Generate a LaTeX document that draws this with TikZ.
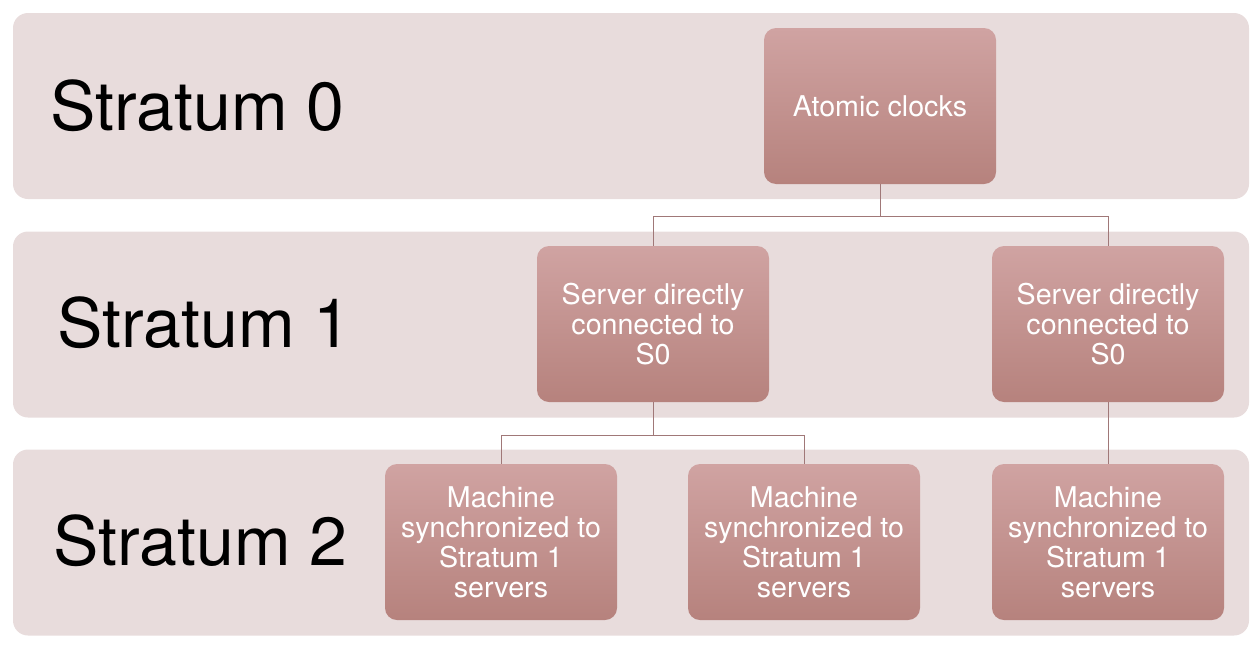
\documentclass[tikz,border=0pt]{standalone}
\usepackage{fontspec}
\setmainfont{TeX Gyre Heros}
\usepackage{tikz}
\usetikzlibrary{positioning}
\definecolor{Band}{RGB}{232,220,220}
\definecolor{BoxTop}{RGB}{208,163,162}
\definecolor{BoxBot}{RGB}{182,130,125}
\definecolor{Wire}{RGB}{160,120,120}
\tikzstyle{Layer}=[rounded corners=15pt,fill=Band,inner sep=0pt,
minimum width=1236pt,minimum height=186pt]
\tikzstyle{Box}=[rounded corners=12pt,top color=BoxTop,bottom color=BoxBot,
minimum width=232pt,minimum height=156pt,align=center,
text=white,font=\fontsize{28.6}{30}\selectfont,inner sep=0pt]
\tikzstyle{Title}=[font=\fontsize{68}{72}\selectfont,anchor=west,inner sep=0pt]
\tikzstyle{Edge}=[draw=Wire,line width=1pt]

\begin{document}
\begin{tikzpicture}[x=1pt,y=-1pt]
        \useasboundingbox (0,0) rectangle (1260,648);
        \node[Layer](L0)at(631,106){};
        \node[Layer](L1)at(631,324.5){};
        \node[Layer](L2)at(631,542.5){};
        \node[Title](T0)at(50,106){Stratum 0};
        \node[Title](T1)at(57,323){Stratum 1};
        \node[Title](T2)at(53,541){Stratum 2};
        \node[Box](A)at(880,106){Atomic clocks};
        \node[Box](S1a)at(653,324){Server directly\\connected to\\S0};
        \node[Box](S1b)at(1108,324){Server directly\\connected to\\S0};
        \node[Box](S2a)at(501,542){Machine\\synchronized to\\Stratum 1\\servers};
        \node[Box](S2b)at(804,542){Machine\\synchronized to\\Stratum 1\\servers};
        \node[Box](S2c)at(1108,542){Machine\\synchronized to\\Stratum 1\\servers};
        \draw[Edge](A.south)--++(0,32)-|(S1a.north);
        \draw[Edge](A.south)--++(0,32)-|(S1b.north);
        \draw[Edge](S1a.south)--++(0,33)-|(S2a.north);
        \draw[Edge](S1a.south)--++(0,33)-|(S2b.north);
        \draw[Edge](S1b.south)--(S2c.north);
    \end{tikzpicture}
\end{document}
